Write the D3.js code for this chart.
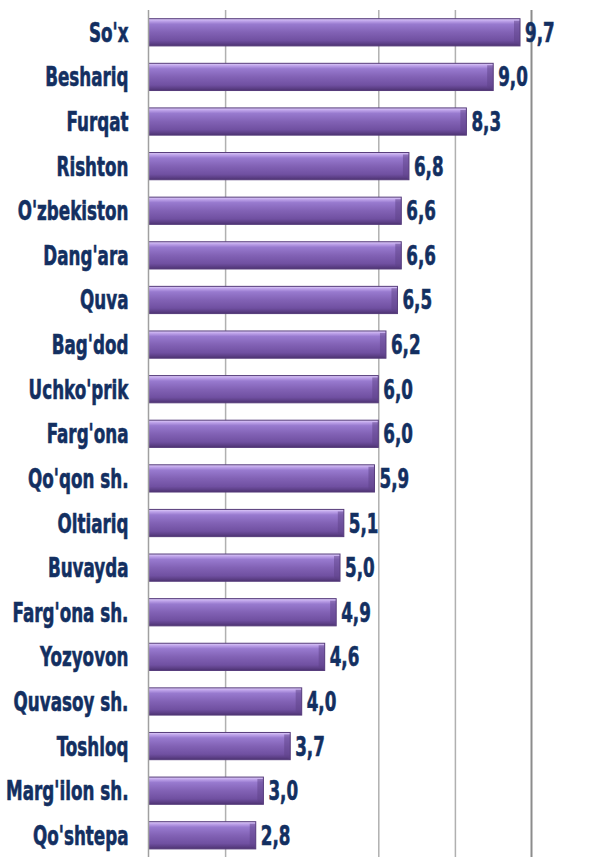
<!DOCTYPE html>
<html lang="en">
<head>
    <meta charset="utf-8">
    <title>Bar chart</title>
    <style type="text/css">
        body { margin: 0; background: #fff; }
        text { font-family: 'DejaVu Sans Condensed', 'DejaVu Sans', sans-serif; font-weight: bold; }
    </style>
    <script type="text/javascript" src="https://cdn.jsdelivr.net/npm/d3@7"></script>
</head>
<body>
    <script type="text/javascript">
        var svgW = 599;
        var svgH = 857;

        /* DATA */
        var districts = ["So'x", "Beshariq", "Furqat", "Rishton", "O'zbekiston", "Dang'ara", "Quva", "Bag'dod",
            "Uchko'prik", "Farg'ona", "Qo'qon sh.", "Oltiariq", "Buvayda", "Farg'ona sh.", "Yozyovon",
            "Quvasoy sh.", "Toshloq", "Marg'ilon sh.", "Qo'shtepa"];
        var values = [9.7, 9.0, 8.3, 6.8, 6.6, 6.6, 6.5, 6.2, 6.0, 6.0, 5.9, 5.1, 5.0, 4.9, 4.6, 4.0, 3.7, 3.0, 2.8];
        var gridTicks = [2, 6, 8];
        var xDomain = [0, 10];

        var svg = d3.select("body").append("svg")
            .attr("width", svgW)
            .attr("height", svgH);

        var x = d3.scaleLinear().domain(xDomain).range([148.5, 531.5]);
        var y = d3.scaleBand().domain(districts).range([10, 857.6])
            .paddingInner(0.39).paddingOuter(0.195);

        var squeeze = 0.69;

        /* GRADIENT FOR BARS */
        var defs = svg.append("defs");
        var grad = defs.append("linearGradient")
            .attr("id", "barGrad")
            .attr("x1", 0).attr("y1", 0).attr("x2", 0).attr("y2", 1);
        var stops = [
            [0, "#e0d0f8"], [0.08, "#c0a5eb"], [0.2, "#987acf"], [0.5, "#8262b5"],
            [0.8, "#7050a1"], [0.92, "#5c3f86"], [1, "#4c3270"]
        ];
        stops.forEach(function (s) {
            grad.append("stop").attr("offset", s[0]).attr("stop-color", s[1]);
        });

        /* GRIDLINES */
        svg.append("g")
            .attr("transform", "translate(0,10)")
            .call(d3.axisBottom(x).tickValues(gridTicks).tickSize(svgH).tickFormat(""))
            .call(function (g) {
                g.select(".domain").remove();
                g.selectAll(".tick line").attr("stroke", "#b0b0b0").attr("stroke-width", 1.5);
            });

        // right border
        svg.append("line")
            .attr("x1", x(10)).attr("x2", x(10))
            .attr("y1", 10).attr("y2", svgH)
            .attr("stroke", "#8c8c8c").attr("stroke-width", 2);

        /* BARS */
        var rows = svg.append("g").selectAll("g")
            .data(districts)
            .join("g");

        rows.append("rect")
            .attr("x", x(0))
            .attr("y", function (d) { return y(d); })
            .attr("width", function (d, i) { return x(values[i]) - x(0); })
            .attr("height", y.bandwidth())
            .attr("fill", "url(#barGrad)")
            .attr("stroke", "#553b7a")
            .attr("stroke-width", 1);

        // end cap bevel
        rows.append("path")
            .attr("d", function (d, i) {
                var xe = x(values[i]);
                var yt = y(d);
                var h = y.bandwidth();
                return "M" + (xe - 6) + "," + (yt + 2) + "L" + xe + "," + (yt + 2) +
                    "L" + xe + "," + (yt + h) + "L" + (xe - 6) + "," + (yt + h - 4) + "Z";
            })
            .attr("fill", "#5d4187")
            .attr("opacity", 0.5);

        /* AXIS LINE */
        svg.append("line")
            .attr("x1", x(0)).attr("x2", x(0))
            .attr("y1", 10).attr("y2", svgH)
            .attr("stroke", "#a0a0a0").attr("stroke-width", 1.5);

        /* CATEGORY LABELS */
        rows.append("text")
            .attr("transform", function (d) {
                return "translate(" + (x(0) - 20) + "," + (y(d) + y.bandwidth() / 2 + 9.5) + ") scale(" + squeeze + ",1)";
            })
            .attr("text-anchor", "end")
            .attr("font-size", 27)
            .attr("fill", "#132f61")
            .attr("stroke", "#132f61")
            .attr("stroke-width", 0.6)
            .text(function (d) { return d; });

        /* VALUE LABELS */
        rows.append("text")
            .attr("transform", function (d, i) {
                return "translate(" + (x(values[i]) + 5) + "," + (y(d) + y.bandwidth() / 2 + 9.5) + ") scale(" + squeeze + ",1)";
            })
            .attr("font-size", 27)
            .attr("fill", "#132f61")
            .attr("stroke", "#132f61")
            .attr("stroke-width", 0.6)
            .text(function (d, i) { return values[i].toFixed(1).replace(".", ","); });
    </script>
</body>
</html>
